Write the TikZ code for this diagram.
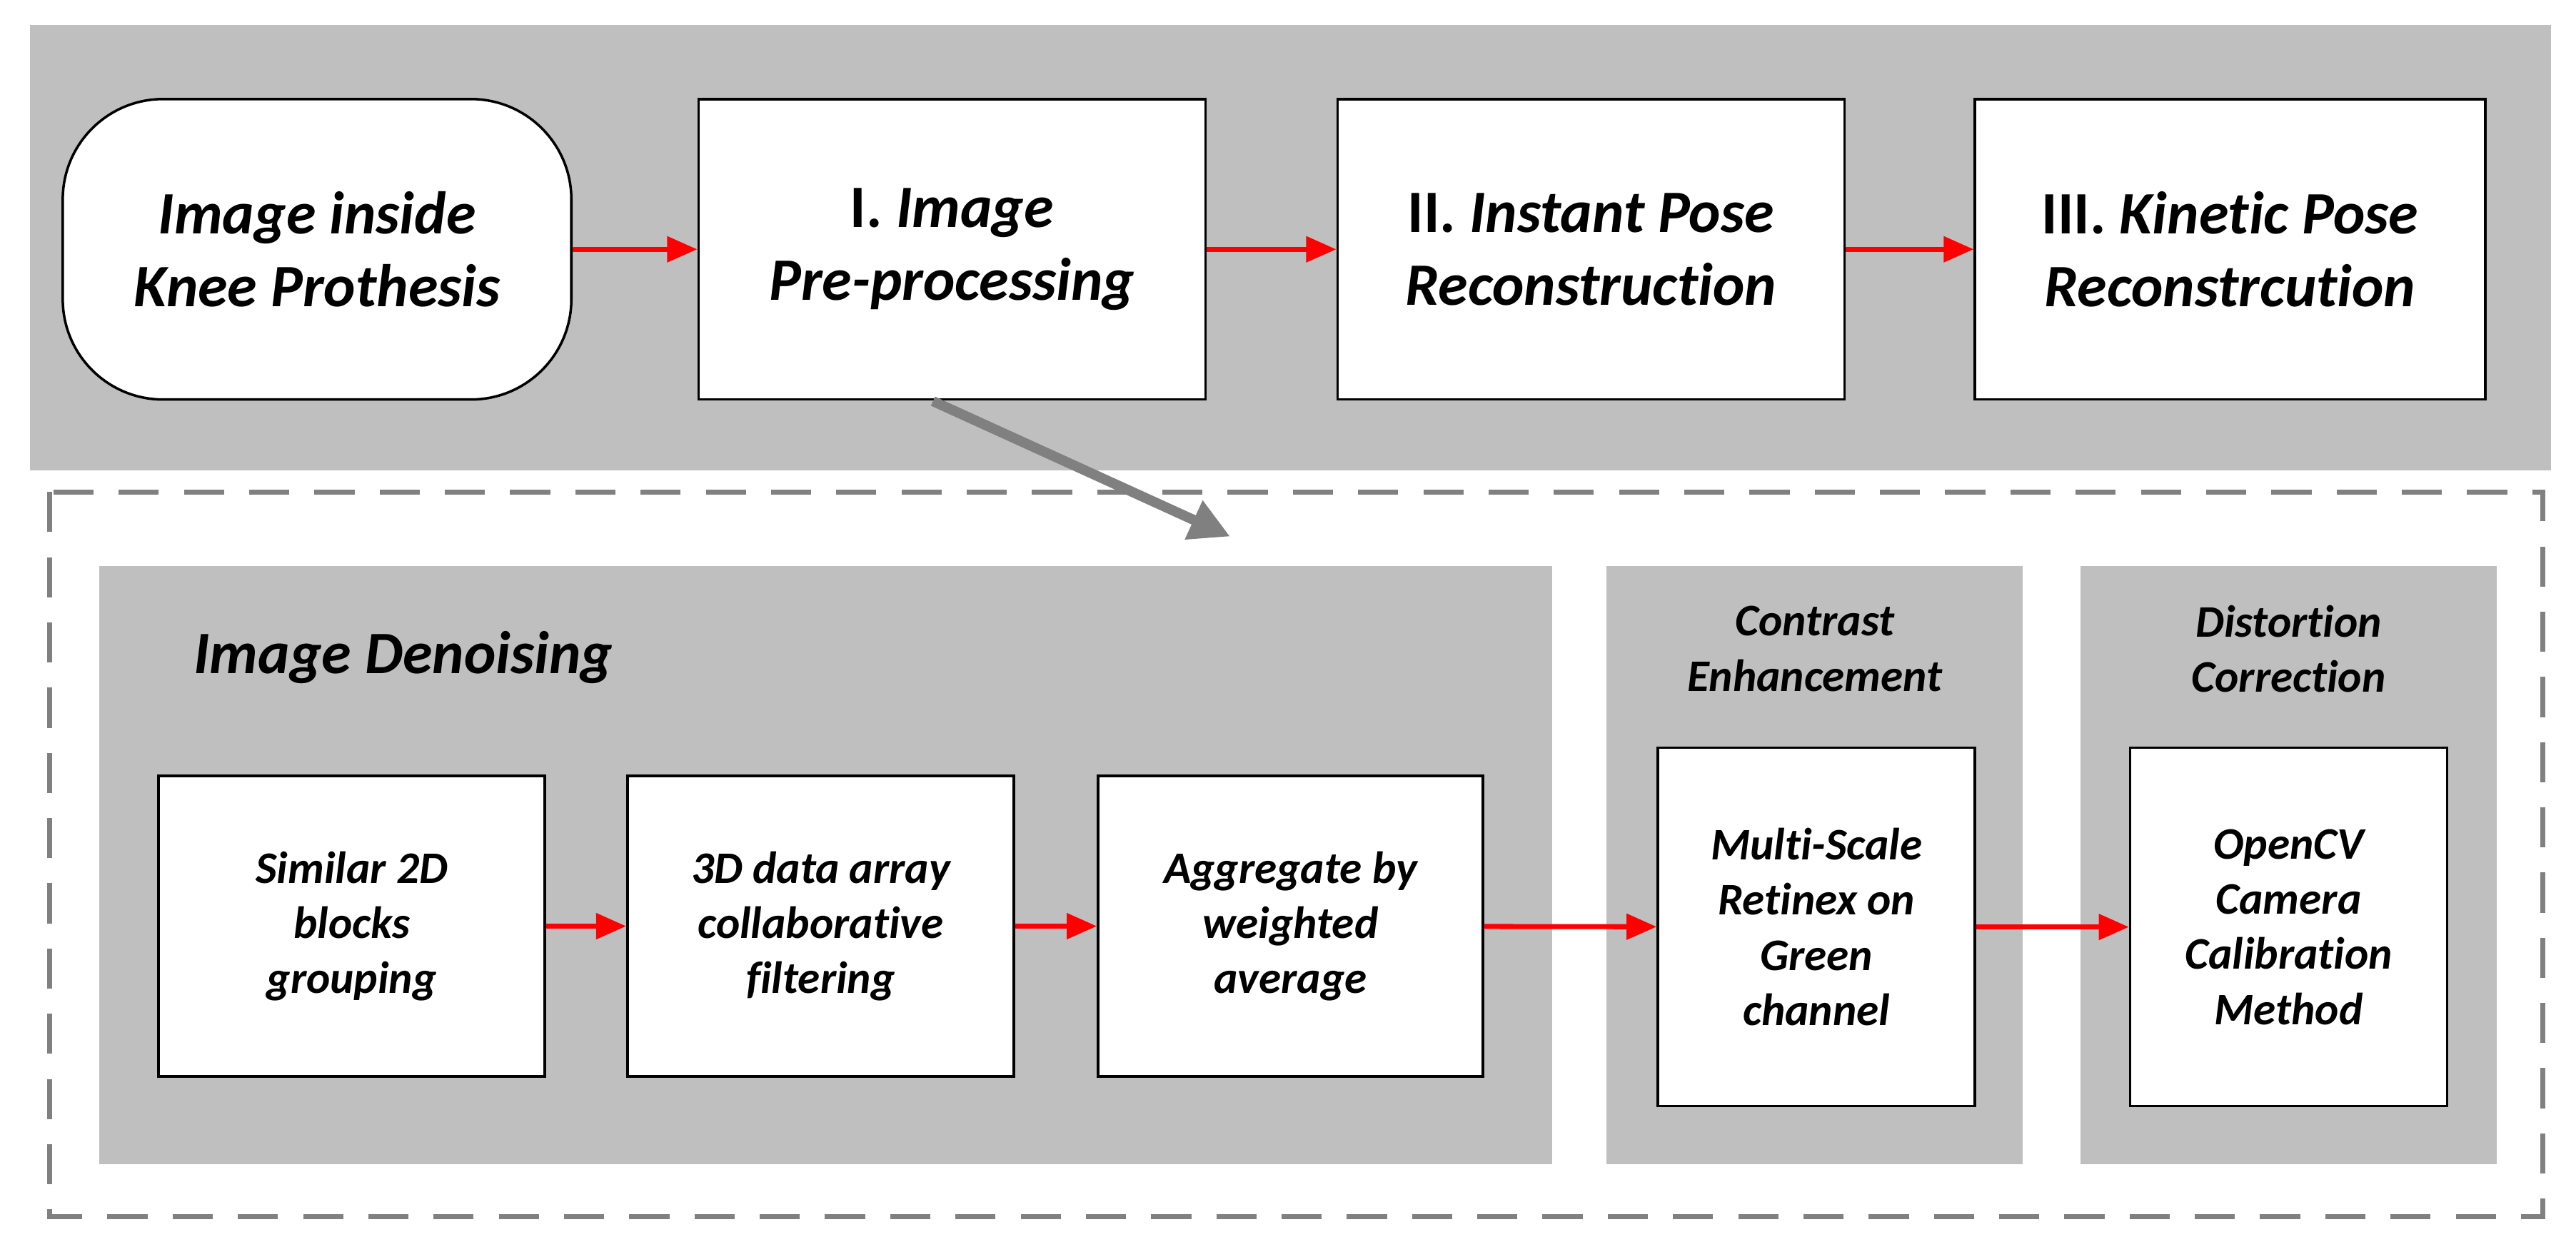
\documentclass[tikz,border=0pt]{standalone}
\usepackage{fontspec}
\setmainfont{Carlito}[Ligatures=NoCommon]
\usetikzlibrary{arrows.meta}
\definecolor{bandgray}{HTML}{BFBFBF}
\definecolor{arrgray}{HTML}{808080}
\begin{document}
\begin{tikzpicture}[x=0.023128cm,y=-0.023128cm,
  band/.style={fill=bandgray,draw=none},
  big/.style={draw=black,line width=1pt,fill=white,align=center,font=\fontsize{24}{29}\selectfont\bfseries\itshape,inner sep=0pt},
  small/.style={draw=black,line width=1pt,fill=white,align=center,font=\fontsize{18}{22}\selectfont\bfseries\itshape,inner sep=0pt},
  hdr/.style={align=center,font=\fontsize{18}{22}\selectfont\bfseries\itshape},
  red/.style={draw=red,line width=2pt,-{Triangle[length=12pt,width=10pt]}}]
\useasboundingbox (0,0) rectangle (1560,752);
\fill[band] (18,15) rectangle (1545,285);
\node[big,rounded corners=40pt,minimum width=308*0.023128cm,minimum height=182*0.023128cm] (src) at (192,151) {Image inside\\Knee Prothesis};
\node[big,minimum width=307*0.023128cm,minimum height=182*0.023128cm] (p1) at (576.5,151) {\textup{I.} Image\\Pre-processing};
\node[big,minimum width=307*0.023128cm,minimum height=182*0.023128cm] (p2) at (963.5,151) {\textup{II.} Instant Pose\\Reconstruction};
\node[big,minimum width=309*0.023128cm,minimum height=182*0.023128cm] (p3) at (1350.5,151) {\textup{III.} Kinetic Pose\\Reconstrcution};
\draw[red] (src) -- (p1);
\draw[red] (p1) -- (p2);
\draw[red] (p2) -- (p3);
\draw[draw=arrgray,line width=2pt,dash pattern=on 16pt off 10pt] (30,298) rectangle (1540,737);
\coordinate (gs) at (565,243);
\coordinate (ge) at (745,325);
\draw[arrgray,line width=4pt,-{Triangle[length=16pt,width=16pt]}] (gs) -- (ge);
\fill[band] (60,343) rectangle (940,705);
\fill[band] (973,343) rectangle (1225,705);
\fill[band] (1260,343) rectangle (1512,705);
\node[anchor=west,font=\fontsize{24}{29}\selectfont\bfseries\itshape] (dn) at (112,398) {Image Denoising};
\node[hdr] (ce) at (1099,393) {Contrast\\Enhancement};
\node[hdr] (dc) at (1386,393) {Distortion\\Correction};
\node[small,minimum width=234*0.023128cm,minimum height=182*0.023128cm] (b1) at (213,561) {Similar 2D\\blocks\\grouping};
\node[small,minimum width=234*0.023128cm,minimum height=182*0.023128cm] (b2) at (497,561) {3D data array\\collaborative\\filtering};
\node[small,minimum width=233*0.023128cm,minimum height=182*0.023128cm] (b3) at (781.5,561) {Aggregate by\\weighted\\average};
\node[small,minimum width=192*0.023128cm,minimum height=217*0.023128cm] (b4) at (1100,561.5) {Multi-Scale\\Retinex on\\Green\\channel};
\node[small,minimum width=192*0.023128cm,minimum height=217*0.023128cm] (b5) at (1386,561.5) {OpenCV\\Camera\\Calibration\\Method};
\draw[red] (b1) -- (b2);
\draw[red] (b2) -- (b3);
\draw[red] (b3) -- (b4);
\draw[red] (b4) -- (b5);
\end{tikzpicture}
\end{document}
